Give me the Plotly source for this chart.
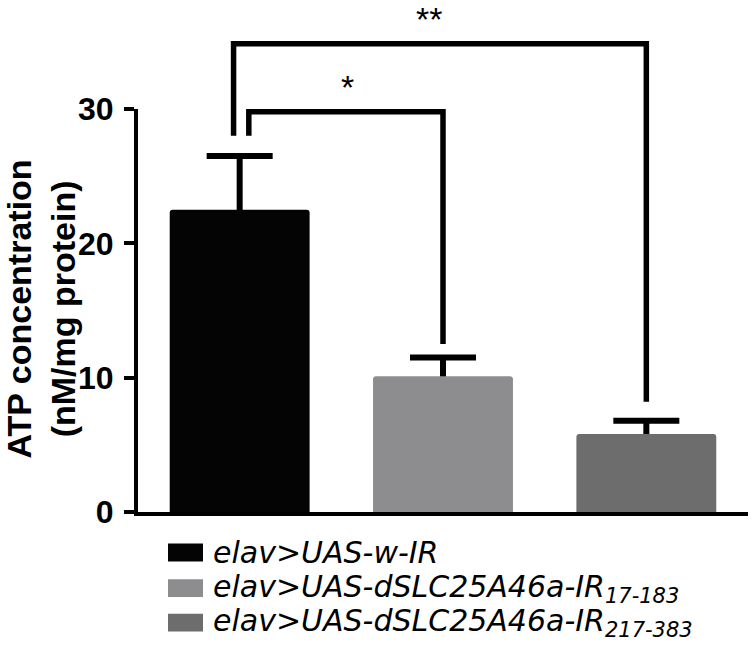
import plotly.graph_objects as go

# ---------------- data ----------------
group_positions = [0, 1, 2]
legend_labels = [
    "elav&gt;UAS-w-IR",
    "elav&gt;UAS-dSLC25A46a-IR<sub>17-183</sub>",
    "elav&gt;UAS-dSLC25A46a-IR<sub>217-383</sub>",
]
atp_mean = [22.5, 10.1, 5.8]
atp_err = [4.0, 1.4, 1.0]
bar_colors = ["#040404", "#8d8d90", "#6d6d6d"]
y_ticks = [0, 10, 20, 30]

# significance brackets (data units)
sig_from = [0, 0]
sig_to = [1, 2]
sig_from_offset = [0.045, -0.03]
sig_level = [29.8, 34.85]
sig_left_end = [28.0, 28.0]
sig_right_end = [12.5, 8.2]
sig_labels = ["*", "**"]
sig_label_x = [0.53, 0.93]

# ---------------- layout geometry ----------------
W, H = 754, 646
ML, MR, MT, MB = 138, 6, 18, 134
plot_w = W - ML - MR
plot_h = H - MT - MB
y_top_px = 104  # pixel row of y=30
d = (H - MB - y_top_px) / plot_h
ymax = 30


def px2x(px):
    return (px - ML) / plot_w


def px2y(py):
    return (H - MB - py) / plot_h


fig = go.Figure()

# error bars (drawn on the lower layer so the bars hide their lower half)
fig.add_trace(go.Scatter(
    x=group_positions, y=atp_mean, mode="markers",
    marker=dict(size=1, opacity=0),
    error_y=dict(type="data", array=atp_err, symmetric=True,
                 thickness=6, width=33, color="black"),
    showlegend=False, hoverinfo="skip", xaxis="x", yaxis="y",
))

# bars (upper layer, same scale)
fig.add_trace(go.Bar(
    x=group_positions, y=atp_mean, width=0.688,
    marker=dict(color=bar_colors, line=dict(width=0), cornerradius=3),
    showlegend=False, xaxis="x", yaxis="y2",
))

for i in range(len(sig_from)):
    xa = sig_from[i] + sig_from_offset[i]
    xb = sig_to[i]
    fig.add_trace(go.Scatter(
        x=[xa, xa, xb, xb],
        y=[sig_left_end[i], sig_level[i], sig_level[i], sig_right_end[i]],
        mode="lines", line=dict(color="black", width=5.5),
        showlegend=False, hoverinfo="skip", xaxis="x", yaxis="y2",
    ))
    fig.add_annotation(
        x=sig_label_x[i], y=sig_level[i], xref="x", yref="y2",
        text=sig_labels[i], showarrow=False, yanchor="bottom", yshift=4,
        font=dict(family="Liberation Sans", size=34, color="black"),
    )

# y-axis title
fig.add_annotation(
    x=px2x(41), y=px2y(307), xref="paper", yref="paper",
    text="<b>ATP concentration<br>(nM/mg protein)</b>", textangle=-90,
    showarrow=False, xanchor="center", yanchor="middle",
    font=dict(family="Liberation Sans", size=34, color="black"),
)

# legend (manual, larger swatches)
row_y = [553, 589, 624]
for i, lab in enumerate(legend_labels):
    fig.add_shape(type="rect", xref="paper", yref="paper",
                  x0=px2x(168), x1=px2x(203), y0=px2y(row_y[i] - 9), y1=px2y(row_y[i] + 9),
                  fillcolor=bar_colors[i], line=dict(width=0))
    fig.add_annotation(
        x=px2x(211), y=px2y(row_y[i]), xref="paper", yref="paper",
        text="<i>" + lab + "</i>", showarrow=False, xanchor="left", yanchor="middle",
        font=dict(family="DejaVu Sans", size=30, color="black"), align="left",
    )

fig.update_layout(
    width=W, height=H,
    margin=dict(l=ML, r=MR, t=MT, b=MB, pad=0),
    paper_bgcolor="white", plot_bgcolor="rgba(0,0,0,0)",
    xaxis=dict(range=[-0.5, 2.5], showline=True, linewidth=4, linecolor="black",
               showticklabels=False, ticks="", showgrid=False, zeroline=False,
               anchor="y", fixedrange=True),
    yaxis=dict(domain=[0, d], range=[0, ymax], tickvals=y_ticks, ticks="outside",
               ticklen=10, tickwidth=4, tickcolor="black", showline=True,
               linewidth=4, linecolor="black", showgrid=False, zeroline=False,
               ticklabelstandoff=4, anchor="x",
               tickfont=dict(family="Liberation Sans", size=32, color="black", weight="bold")),
    yaxis2=dict(domain=[0, 1], range=[0, ymax / d], visible=False, anchor="x",
                showgrid=False, zeroline=False),
    bargap=0.3,
)

# remove the browser's default 8px page margin so the figure starts at (0, 0)
fig.write_html("out.html", config={"displayModeBar": False},
               post_script="document.body.style.margin='0px';document.body.style.overflow='hidden';")
